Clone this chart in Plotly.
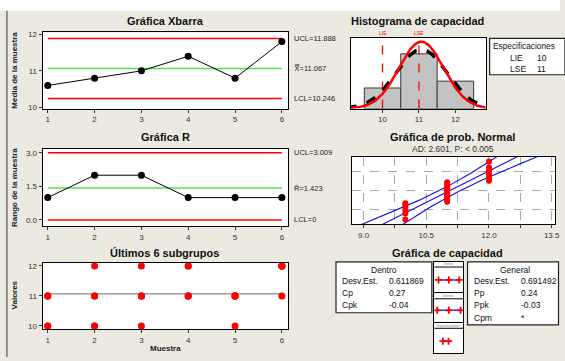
import numpy as np
import plotly.graph_objects as go
from statistics import NormalDist

W, H = 565, 361

# ---------------- data ----------------
subgroups = [1, 2, 3, 4, 5, 6]
sample_values = [
    [10, 10, 11, 11, 11],
    [10, 10, 11, 11, 12],
    [10, 11, 11, 11, 12],
    [11, 11, 11, 12, 12],
    [10, 11, 11, 11, 11],
    [11, 12, 12, 12, 12],
]
xbar_ucl, xbar_center, xbar_lcl = 11.888, 11.067, 10.246
r_ucl, r_center, r_lcl = 3.009, 1.423, 0.0
lie, lse = 10, 11
sd_within, sd_overall = 0.611869, 0.691492
within_labels = ["Desv.Est.", "Cp", "Cpk"]
within_values = ["0.611869", "0.27", "-0.04"]
overall_labels = ["Desv.Est.", "Pp", "Ppk", "Cpm"]
overall_values = ["0.691492", "0.24", "-0.03", "*"]
ad_text = "AD: 2.601, P: < 0.005"
xbar_ticks = [10, 11, 12]
r_ticks = [0.0, 1.5, 3.0]
r_ticktext = ["0.0", "1.5", "3.0"]
hist_ticks = [10, 11, 12]
prob_ticks = [9.0, 10.5, 12.0, 13.5]
prob_ticktext = ["9.0", "10.5", "12.0", "13.5"]
prob_grid_pct = [10, 50, 90]

# ---------------- derived ----------------
arr = np.array(sample_values, dtype=float)
means = arr.mean(axis=1)
ranges = arr.max(axis=1) - arr.min(axis=1)
allv = np.sort(arr.ravel())
n = allv.size
mu = allv.mean()
nd = NormalDist()

FONT = "Liberation Sans, Arial, sans-serif"
RED = "#FF0000"
GREEN = "#55E055"
BEIGE = "#ECE9E0"


def dx(x0, x1):
    return [x0 / W, x1 / W]


def dy(y0, y1):
    return [1 - y1 / H, 1 - y0 / H]


def px(x):
    return x / W


def py(y):
    return 1 - y / H


fig = go.Figure()

# ---------- Xbar chart ----------
for yv, col in [(xbar_ucl, RED), (xbar_lcl, RED), (xbar_center, GREEN)]:
    fig.add_trace(go.Scatter(x=[subgroups[0], subgroups[-1]], y=[yv] * 2, mode="lines",
                             line=dict(color=col, width=1.5), xaxis="x", yaxis="y"))
fig.add_trace(go.Scatter(x=subgroups, y=means, mode="lines+markers",
                         line=dict(color="black", width=1), marker=dict(color="black", size=7),
                         xaxis="x", yaxis="y"))

# ---------- R chart ----------
for yv, col in [(r_ucl, RED), (r_lcl, RED), (r_center, GREEN)]:
    fig.add_trace(go.Scatter(x=[subgroups[0], subgroups[-1]], y=[yv] * 2, mode="lines",
                             line=dict(color=col, width=1.5), xaxis="x2", yaxis="y2"))
fig.add_trace(go.Scatter(x=subgroups, y=ranges, mode="lines+markers",
                         line=dict(color="black", width=1), marker=dict(color="black", size=7),
                         xaxis="x2", yaxis="y2"))

# ---------- Last 6 subgroups ----------
fig.add_trace(go.Scatter(x=[subgroups[0], subgroups[-1]], y=[mu] * 2, mode="lines",
                         line=dict(color="#8A8A8A", width=1.2), xaxis="x3", yaxis="y3"))
sx = [s for s, row in zip(subgroups, sample_values) for _ in row]
sy = [v for row in sample_values for v in row]
fig.add_trace(go.Scatter(x=sx, y=sy, mode="markers", marker=dict(color=RED, size=7),
                         xaxis="x3", yaxis="y3"))

# ---------- Histogram ----------
fig.add_trace(go.Histogram(x=allv, xbins=dict(start=9.5, end=12.5, size=1), autobinx=False,
                           marker=dict(color="#C3C3C3", line=dict(color="#3A3A3A", width=1)),
                           xaxis="x4", yaxis="y4"))
xg = np.linspace(9.0, 13.2, 200)
pdf_o = n * np.exp(-0.5 * ((xg - mu) / sd_overall) ** 2) / (sd_overall * np.sqrt(2 * np.pi))
pdf_w = n * np.exp(-0.5 * ((xg - mu) / sd_within) ** 2) / (sd_within * np.sqrt(2 * np.pi))
for sv in (lie, lse):
    fig.add_trace(go.Scatter(x=[sv, sv], y=[0, 30], mode="lines",
                             line=dict(color=RED, width=1.3, dash="dash"), xaxis="x4", yaxis="y4"))
fig.add_trace(go.Scatter(x=xg, y=pdf_o, mode="lines",
                         line=dict(color="black", width=3.5, dash="dash"), xaxis="x4", yaxis="y4"))
fig.add_trace(go.Scatter(x=xg, y=pdf_w, mode="lines",
                         line=dict(color=RED, width=2.5), xaxis="x4", yaxis="y4"))

# ---------- Normal probability plot ----------
ranks = np.arange(1, n + 1)
zpts = np.array([nd.inv_cdf((i - 0.3) / (n + 0.4)) for i in ranks])
zg = np.linspace(-3, 3, 121)
fit = mu + zg * sd_overall
half = 1.96 * sd_overall * np.sqrt((1 + zg ** 2 / 2) / n)
for xs in (fit, fit - half, fit + half):
    fig.add_trace(go.Scatter(x=xs, y=zg, mode="lines", line=dict(color="#1010E0", width=1.1),
                             xaxis="x5", yaxis="y5"))
fig.add_trace(go.Scatter(x=allv, y=zpts, mode="markers", marker=dict(color=RED, size=6),
                         xaxis="x5", yaxis="y5"))

# ---------- Capability plot ----------
intervals = [
    [mu - 3 * sd_within, mu, mu + 3 * sd_within],
    [mu - 3 * sd_overall, mu, mu + 3 * sd_overall],
    [lie, lse],
]
for k, iv in enumerate(intervals):
    fig.add_trace(go.Scatter(x=iv, y=[0.4] * len(iv), mode="lines+markers",
                             line=dict(color="#3030FF", width=1.5),
                             marker=dict(symbol="cross-thin", size=5, line=dict(color=RED, width=1.8)),
                             xaxis=f"x{6 + k}", yaxis=f"y{6 + k}"))

# ---------- axes ----------
base = dict(showline=True, linecolor="black", linewidth=1, mirror=True, ticks="outside",
            ticklen=3, tickcolor="#333", tickfont=dict(size=8, color="#333", family=FONT),
            zeroline=False, showgrid=False, fixedrange=True)

lay = {}
ctrl_x = dict(base, range=[0.89, 6.14], tickvals=subgroups)
lay["xaxis"] = dict(ctrl_x, domain=dx(43, 291), anchor="y")
lay["yaxis"] = dict(base, domain=dy(31, 108.3), range=[9.97, 12.05], tickvals=xbar_ticks, anchor="x")
lay["xaxis2"] = dict(ctrl_x, domain=dx(43, 291), anchor="y2")
lay["yaxis2"] = dict(base, domain=dy(149.3, 228), range=[-0.28, 3.18], tickvals=r_ticks,
                     ticktext=r_ticktext, anchor="x2")
lay["xaxis3"] = dict(ctrl_x, domain=dx(43, 291), anchor="y3")
lay["yaxis3"] = dict(base, domain=dy(265, 332.7), range=[9.89, 12.11], tickvals=xbar_ticks, anchor="x3")
lay["xaxis4"] = dict(base, domain=dx(354.3, 490), range=[9.14, 12.83], tickvals=hist_ticks, anchor="y4")
lay["yaxis4"] = dict(base, domain=dy(36.7, 108.3), range=[0, 20.6], showticklabels=False, ticks="",
                     anchor="x4")
lay["xaxis5"] = dict(base, domain=dx(355, 560), range=[8.72, 13.58], tickvals=prob_ticks,
                     ticktext=prob_ticktext, showgrid=True, gridcolor="#AAAAAA", griddash="dash",
                     gridwidth=1,
                     minor=dict(dtick=0.75, tick0=9.0, ticks="outside", ticklen=3, tickcolor="#333",
                                showgrid=True, gridcolor="#AAAAAA", griddash="dash"),
                     anchor="y5")
lay["yaxis5"] = dict(base, domain=dy(157.3, 226), range=[-2.326, 2.326],
                     tickvals=[nd.inv_cdf(p / 100) for p in prob_grid_pct], showticklabels=False,
                     ticks="", showgrid=True, gridcolor="#AAAAAA", griddash="dash", anchor="x5")
cap_y = [(264, 295), (296.3, 325), (326.3, 357.3)]
for k, (a, b) in enumerate(cap_y):
    lay[f"xaxis{6 + k}"] = dict(base, domain=dx(438.3, 467.3), range=[8.5, 13.6], ticks="",
                                showticklabels=False, anchor=f"y{6 + k}")
    lay[f"yaxis{6 + k}"] = dict(base, domain=dy(a, b), range=[0, 1], ticks="",
                                showticklabels=False, anchor=f"x{6 + k}")

shapes = []
annotations = []

# white strip at top + left frame line
shapes.append(dict(type="rect", xref="paper", yref="paper", x0=0, x1=1, y0=py(9), y1=1.01,
                   fillcolor="white", line=dict(width=0), layer="below"))
shapes.append(dict(type="line", xref="paper", yref="paper", x0=px(7), x1=px(7), y0=0, y1=py(9),
                   line=dict(color="#555", width=1.2)))

# capability mini boxes: header separators and tiny headers
cap_heads = ["Dentro", "General", "Especificaciones"]
for k, (a, b) in enumerate(cap_y):
    shapes.append(dict(type="line", xref="paper", yref="paper", x0=px(438.3), x1=px(467.3),
                       y0=py(a + 5.5), y1=py(a + 5.5), line=dict(color="black", width=1)))
    annotations.append(dict(x=px(452.8), y=py(a + 2.8), xref="paper", yref="paper", text=cap_heads[k],
                            showarrow=False, font=dict(size=3, color="#777", family=FONT),
                            xanchor="center", yanchor="middle"))


def box(x0, y0, x1, y1):
    shapes.append(dict(type="rect", xref="paper", yref="paper", x0=px(x0), x1=px(x1), y0=py(y1),
                       y1=py(y0), fillcolor="white", line=dict(color="#222", width=1.2)))


def txt(x, y, s, size=8.5, anchor="left", bold=False, color="#111", yref="paper", xref="paper"):
    annotations.append(dict(x=px(x) if xref == "paper" else x, y=py(y) if yref == "paper" else y,
                            xref=xref, yref=yref, text=f"<b>{s}</b>" if bold else s,
                            showarrow=False, xanchor=anchor, yanchor="middle",
                            font=dict(size=size, color=color, family=FONT)))


BX = 8.5
box(494, 37, 570, 74)
txt(528.5, 44.5, "Especificaciones", size=8.3, anchor="center")
txt(512.3, 56.5, "LIE", size=BX)
txt(539.3, 56.5, str(lie), size=BX)
txt(512.3, 68.3, "LSE", size=BX)
txt(539.3, 68.3, str(lse), size=BX)

box(339, 264.3, 435.7, 316)
txt(387.3, 272.8, "Dentro", size=BX, anchor="center")
for i, (l, v) in enumerate(zip(within_labels, within_values)):
    txt(343.3, 284 + 12.3 * i, l, size=BX)
    txt(390.7, 284 + 12.3 * i, v, size=BX)

box(471.7, 264.3, 563.5, 328.3)
txt(519.3, 272.8, "General", size=BX, anchor="center")
for i, (l, v) in enumerate(zip(overall_labels, overall_values)):
    txt(476.7, 284 + 12.3 * i, l, size=BX)
    txt(524, 284 + 12.3 * i, v, size=BX)

# titles
TS = 11
txt(167, 19.5, "Gráfica Xbarra", size=TS, anchor="center", bold=True)
txt(421.7, 19.5, "Histograma de capacidad", size=TS, anchor="center", bold=True)
txt(167, 137.5, "Gráfica R", size=TS, anchor="center", bold=True)
txt(456.7, 137.5, "Gráfica de prob. Normal", size=TS, anchor="center", bold=True)
txt(456.7, 149.5, ad_text, size=8.5, anchor="center", color="#333")
txt(166, 255, "Últimos 6 subgrupos", size=TS, anchor="center", bold=True)
txt(451.7, 255, "Gráfica de capacidad", size=TS, anchor="center", bold=True)

# axis titles
for ytxt, yc in [("Media de la muestra", 69.5), ("Rango de la muestra", 188.7), ("Valores", 298)]:
    annotations.append(dict(x=px(14.5), y=py(yc), xref="paper", yref="paper", text=f"<b>{ytxt}</b>",
                            textangle=-90, showarrow=False, xanchor="center", yanchor="middle",
                            font=dict(size=8, color="#222", family=FONT)))
txt(167, 352.5, "Muestra", size=8, anchor="center", bold=True, color="#222")

# control limit labels
SL = 7.5
txt(295, xbar_ucl, f"UCL={xbar_ucl:.3f}", size=SL, yref="y", color="#222")
txt(295, xbar_center, f"X\u033f={xbar_center:.3f}", size=SL, yref="y", color="#222")
txt(295, xbar_lcl, f"LCL={xbar_lcl:.3f}", size=SL, yref="y", color="#222")
txt(295, r_ucl, f"UCL={r_ucl:.3f}", size=SL, yref="y2", color="#222")
txt(295, r_center, f"R\u0304={r_center:.3f}", size=SL, yref="y2", color="#222")
txt(295, r_lcl, f"LCL={r_lcl:g}", size=SL, yref="y2", color="#222")

# LIE / LSE labels above histogram
for sv, lab in [(lie, "LIE"), (lse, "LSE")]:
    annotations.append(dict(x=sv, y=py(31.8), xref="x4", yref="paper", text=lab, showarrow=False,
                            font=dict(size=5, color=RED, family=FONT), xanchor="center", yanchor="middle"))

fig.update_layout(width=W, height=H, margin=dict(l=0, r=0, t=0, b=0), showlegend=False,
                  paper_bgcolor=BEIGE, plot_bgcolor="white", shapes=shapes, annotations=annotations,
                  font=dict(family=FONT), bargap=0, hovermode=False, **lay)

fig.write_html("out.html", config={"displayModeBar": False, "staticPlot": True},
               post_script="document.body.style.margin='0';document.body.style.overflow='hidden';")
